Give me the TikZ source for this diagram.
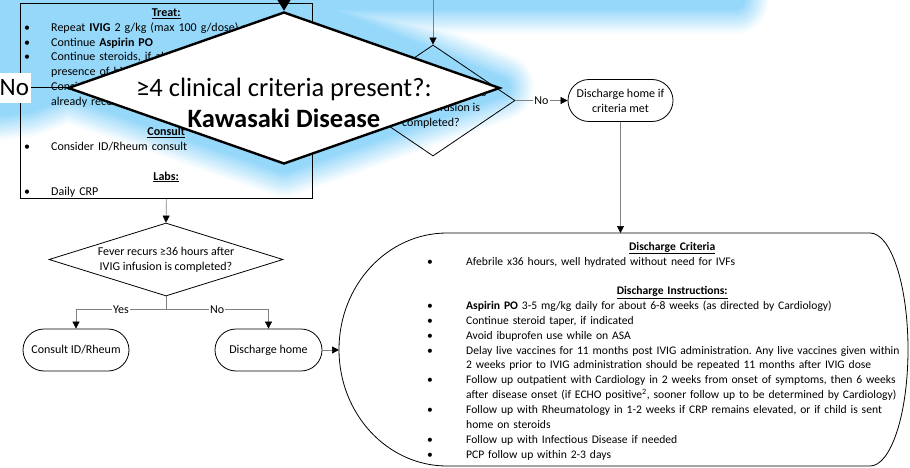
\documentclass[tikz,border=0pt]{standalone}
\usepackage{fontspec}
\setmainfont{Carlito}
\usetikzlibrary{calc,arrows.meta,shapes.geometric,shapes.misc,positioning}

\definecolor{glowblue}{RGB}{150,216,250}
\definecolor{connGray}{RGB}{128,128,128}

\newcommand{\bulA}{\hspace*{4pt}\makebox[27pt][l]{\textbullet}}
\newcommand{\bulB}{\hspace*{2pt}\makebox[39pt][l]{\textbullet}}
\newcommand{\contA}{\hspace*{31pt}}
\newcommand{\contB}{\hspace*{41pt}}
\newcommand{\headline}[2]{\makebox[#1]{\underline{\textbf{#2}}}}
\frenchspacing

\tikzset{
    flowbox/.style={draw=black, line width=0.8pt, inner sep=0pt},
    decide/.style={diamond, draw=black, line width=0.8pt, inner sep=0pt},
    pill/.style={rounded rectangle, draw=black, line width=0.8pt, fill=white,
            minimum height=42pt, inner sep=2pt, align=center,
            font=\fontsize{12}{14.9}\selectfont},
    body/.style={inner sep=0pt, align=left, font=\fontsize{12}{14.9}\selectfont},
    conn/.style={draw=connGray, line width=0.7pt,
            -{Triangle[length=7pt,width=7pt,color=black]}},
    lbl/.style={fill=white, inner sep=1pt, font=\fontsize{12}{14}\selectfont},
    glowshape/.style={insert path={(-30,-20) -- (735,-20) -- (735,0) -- (284,0)
                -- (500,87) -- (284,163) -- (68,88) -- (28,103) -- (-30,110) -- cycle}}
}

\begin{document}
\begin{tikzpicture}[x=1pt, y=-1pt]
    \useasboundingbox (0,0) rectangle (910,468);
    \clip (0,0) rectangle (910,468);

    % blue glow behind the question
    \foreach \w/\p in {68pt/5, 64pt/13, 60pt/21, 56pt/29, 52pt/37, 48pt/45, 44pt/52,
                       40pt/60, 36pt/68, 32pt/76, 28pt/84, 24pt/92, 20pt/100}
        \draw[glowblue!\p, line width=\w, line join=round, glowshape];
    \fill[glowblue, glowshape];

    % treatment box
    \node[flowbox, minimum width=292pt, minimum height=195pt, anchor=north west] (treat) at (20,3) {};
    \node[body, text width=292pt, anchor=north west] (treattxt) at (20,5.6) {%
        \strut\headline{\linewidth}{Treat:}\\
        \bulA Repeat \textbf{IVIG} 2 g/kg (max 100 g/dose) x1\\
        \bulA Continue \textbf{Aspirin PO}\\
        \bulA Continue steroids, if already started\\
        \contA presence of high risk features\\
        \bulA Consider infliximab if patient has\\
        \contA already received steroids\\
        \mbox{}\\
        \headline{\linewidth}{Consult}\\
        \bulA Consider ID/Rheum consult\\
        \mbox{}\\
        \headline{\linewidth}{Labs:}\\
        \bulA Daily CRP};

    % second fever check (right)
    \coordinate (recin) at (433,-10);
    \node[decide, minimum width=164pt, minimum height=111pt] (rec) at (433,100.5) {};
    \node[body, align=center] (rectxt) at (431,108) {Fever recurs ≥36 hours\\after IVIG infusion is\\completed?};
    \node[pill, minimum width=109pt] (dhc) at (620.5,100.5) {Discharge home if\\criteria met};
    \draw[conn] (recin) -- (rec.north);
    \draw[conn] (rec.east) -- node[lbl] {No} (dhc.west);

    % fever check below the box
    \node[decide, minimum width=234pt, minimum height=73pt] (fev) at (166,259.5) {};
    \node[body, align=center] (fevtxt) at (fev.center) {Fever recurs ≥36 hours after\\IVIG infusion is completed?};
    \node[pill, minimum width=110pt] (idr) at (76,350) {Consult ID/Rheum};
    \node[pill, minimum width=111pt] (dh) at (268.5,350) {Discharge home};
    \draw[conn] (treat.south) -- (fev.north);
    \draw[connGray, line width=0.7pt] (fev.south) -- ++(0,13) coordinate (split);
    \draw[conn] (split) -| node[lbl, pos=0.25] {Yes} (idr.north);
    \draw[conn] (split) -| node[lbl, pos=0.25] {No} (dh.north);

    % discharge criteria terminator
    \draw[line width=0.8pt] (447,233) arc[start angle=90, end angle=270, x radius=108pt, y radius=116.5pt]
        -- (870,466) arc[start angle=-90, end angle=90, x radius=38pt, y radius=116.5pt] -- cycle;
    \coordinate (dcleft) at (339,350);
    \coordinate (dctop) at (620.5,233);
    \node[body, text width=520pt, anchor=north west, font=\fontsize{11.6}{14.85}\selectfont] (dctxt) at (425,239.6) {%
        \strut\headline{494pt}{Discharge Criteria}\\
        \bulB Afebrile x36 hours, well hydrated without need for IVFs\\
        \mbox{}\\
        \headline{494pt}{Discharge Instructions:}\\
        \bulB \textbf{Aspirin PO} 3-5 mg/kg daily for about 6-8 weeks (as directed by Cardiology)\\
        \bulB Continue steroid taper, if indicated\\
        \bulB Avoid ibuprofen use while on ASA\\
        \bulB Delay live vaccines for 11 months post IVIG administration. Any live vaccines given within\\
        \contB 2 weeks prior to IVIG administration should be repeated 11 months after IVIG dose\\
        \bulB Follow up outpatient with Cardiology in 2 weeks from onset of symptoms, then 6 weeks\\
        \contB after disease onset (if ECHO positive\textsuperscript{2}, sooner follow up to be determined by Cardiology)\\
        \bulB Follow up with Rheumatology in 1-2 weeks if CRP remains elevated, or if child is sent\\
        \contB home on steroids\\
        \bulB Follow up with Infectious Disease if needed\\
        \bulB PCP follow up within 2-3 days};
    \draw[conn] (dh.east) -- (dcleft);
    \draw[conn] (dhc.south) -- (dctop);

    % highlighted question
    \coordinate (kdin) at (284,-10);
    \node[decide, fill=white, line width=2.4pt, minimum width=432pt, minimum height=152pt] (kd) at (284,88) {};
    \node[inner sep=0pt, align=center, font=\fontsize{26.5}{31}\selectfont] (kdtxt) at (284,103)
        {≥4 clinical criteria present?:\\\textbf{Kawasaki Disease}};
    \node[fill=white, minimum width=33pt, minimum height=30pt, inner sep=0pt,
        font=\fontsize{25}{30}\selectfont] (nolbl) at (14.3,88) {No};
    \draw[line width=1pt] (nolbl.east) -- (kd.west);
    \draw[line width=2pt, -{Triangle[length=12pt,width=14pt]}] (kdin) -- (kd.north);
\end{tikzpicture}
\end{document}
